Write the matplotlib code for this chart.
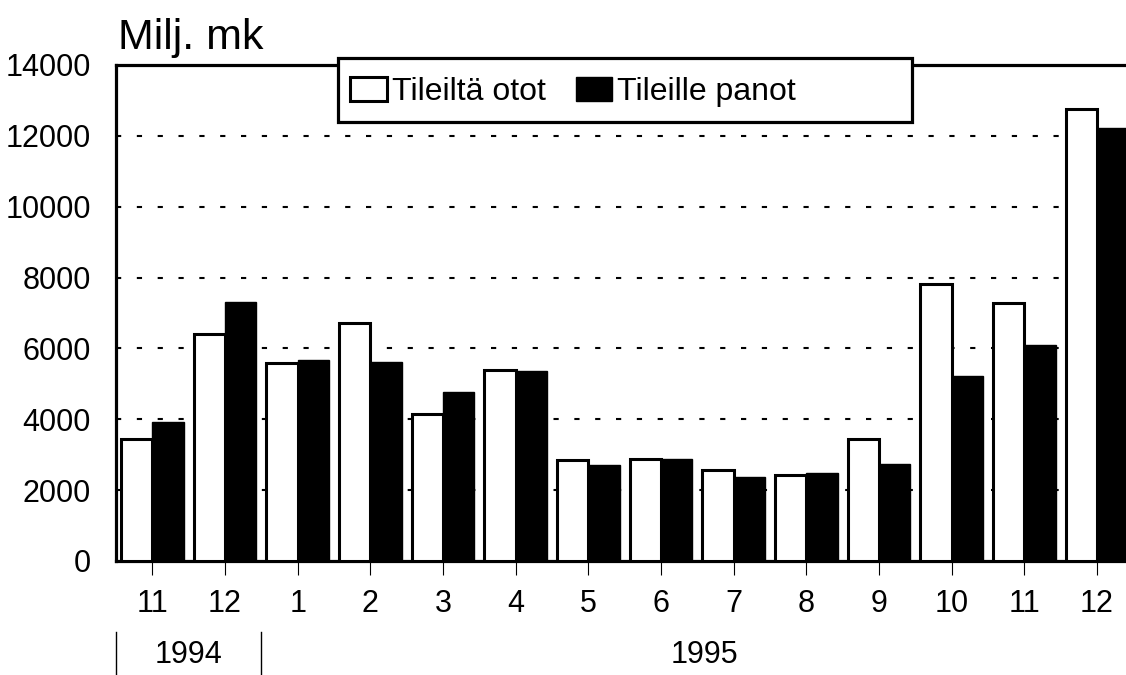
import matplotlib
matplotlib.use("Agg")
import matplotlib.pyplot as plt
import numpy as np
from matplotlib.patches import Patch, Rectangle

# data (milj. mk)
months = ["11", "12", "1", "2", "3", "4", "5", "6", "7", "8", "9", "10", "11", "12"]
ototot = [3440, 6400, 5580, 6730, 4140, 5395, 2840, 2875, 2565, 2430, 3450, 7815, 7285, 12770]
panot = [3930, 7300, 5660, 5630, 4760, 5375, 2705, 2890, 2380, 2475, 2745, 5220, 6095, 12235]
yticks = [0, 2000, 4000, 6000, 8000, 10000, 12000, 14000]
years = ["1994", "1995"]

plt.rcParams["font.family"] = ["Liberation Sans", "DejaVu Sans"]

W, H = 1126, 675
fig = plt.figure(figsize=(W / 100, H / 100), dpi=100)
ax = fig.add_axes([116 / W, 1 - 561 / H, 1010 / W, 496 / H])

x = np.arange(len(months))
bw = 0.43
ax.bar(x - bw / 2, ototot, bw, color="white", edgecolor="black", linewidth=2.2, zorder=3)
ax.bar(x + bw / 2, panot, bw, color="black", edgecolor="black", linewidth=1.0, zorder=3)

ax.set_xlim(-0.5, 13.4)
ax.set_ylim(0, 14000)

for y in yticks[1:-1]:
    ax.axhline(y, color="black", linewidth=1.5, linestyle=(0, (2.5, 7.5)), zorder=1)

ax.set_yticks(yticks)
ax.set_yticklabels([str(v) for v in yticks], fontsize=22)
ax.tick_params(axis="y", length=0, pad=18)
ax.set_xticks(x)
ax.set_xticklabels(months, fontsize=22)
ax.tick_params(axis="x", direction="out", length=10, width=0.8, pad=10)

for side in ["left", "bottom", "top"]:
    ax.spines[side].set_linewidth(2.3)
ax.spines["right"].set_visible(False)

# year row under the month labels
tr = ax.get_xaxis_transform()
for xs in [-0.5, 1.5]:
    ax.plot([xs, xs], [-0.143, -0.235], color="black", linewidth=1.0, transform=tr, clip_on=False)
ax.text(0.5, -0.19, years[0], transform=tr, ha="center", va="center", fontsize=22)
ax.text(7.6, -0.19, years[1], transform=tr, ha="center", va="center", fontsize=22)

fig.text(118 / W, 1 - 49 / H, "Milj. mk", fontsize=31, ha="left", va="baseline")

# legend box drawn by hand, it is wider than its entries
fig.patches.append(Rectangle((338 / W, 1 - 122 / H), 574 / W, 64 / H, transform=fig.transFigure,
                             facecolor="white", edgecolor="black", linewidth=2.3, zorder=5))
handles = [Patch(facecolor="white", edgecolor="black", linewidth=2.2),
           Patch(facecolor="black", edgecolor="black")]
leg = fig.legend(handles, ["Tileiltä otot", "Tileille panot"], loc="center left",
                 bbox_to_anchor=(350 / W, 1 - 92 / H), ncol=2, fontsize=23,
                 frameon=False, borderaxespad=0, borderpad=0, handlelength=1.15,
                 handleheight=0.75, handletextpad=0.15, columnspacing=0.95)
leg.set_zorder(6)

fig.savefig("out.png", dpi=100)
